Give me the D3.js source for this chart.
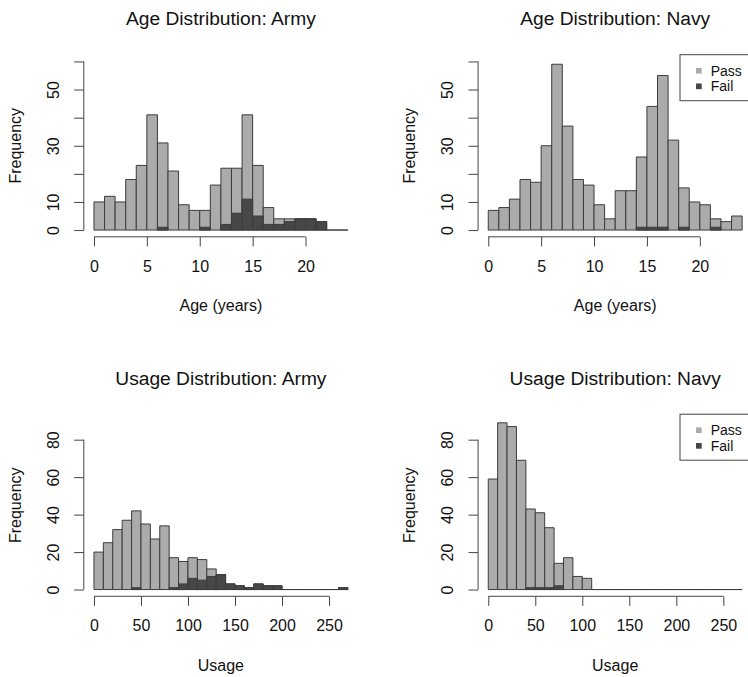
<!DOCTYPE html>
<html>
<head>
<meta charset="utf-8">
<script src="https://cdn.jsdelivr.net/npm/d3@7/dist/d3.min.js"></script>
<style>
  body { margin: 0; background: #fff; }
  svg text { font-family: "Liberation Sans", Arial, Helvetica, sans-serif; fill: #111; }
</style>
</head>
<body>
<svg id="chart" width="748" height="677"></svg>
<script>
// bin edges (1 year for age, 10 units for usage)
const ageEdges = d3.range(0, 25, 1)
const usageEdges = d3.range(0, 280, 10)

// counts per bin. "all" = light bar, "fail" = dark overlay
const armyAgeAll  = [10, 12, 10, 18, 23, 41, 31, 21, 9, 7, 7, 16, 22, 22, 41, 23, 8, 4, 4, 4, 4, 3, 0, 0]
const armyAgeFail = [0, 0, 0, 0, 0, 0, 1, 0, 0, 0, 1, 0, 2, 6, 11, 5, 2, 2, 3, 4, 4, 3, 0, 0]
const navyAgeAll  = [7, 8, 11, 18, 17, 30, 59, 37, 18, 16, 9, 4, 14, 14, 26, 44, 55, 32, 15, 10, 9, 4, 3, 5]
const navyAgeFail = [0, 0, 0, 0, 0, 0, 0, 0, 0, 0, 0, 0, 0, 0, 1, 1, 1, 0, 1, 0, 0, 1, 0, 0]

const armyUsageAll  = [20, 25, 32, 37, 42, 35, 27, 34, 17, 15, 17, 16, 11, 8, 3, 2, 1, 3, 2, 2, 0, 0, 0, 0, 0, 0, 1]
const armyUsageFail = [0, 0, 0, 0, 1, 0, 0, 0, 1, 3, 6, 5, 7, 8, 3, 2, 1, 3, 2, 2, 0, 0, 0, 0, 0, 0, 1]
const navyUsageAll  = [59, 89, 87, 69, 43, 41, 33, 14, 17, 7, 6, 0, 0, 0, 0, 0, 0, 0, 0, 0, 0, 0, 0, 0, 0, 0, 0]
const navyUsageFail = [0, 0, 0, 0, 1, 1, 1, 2, 0, 0, 0, 0, 0, 0, 0, 0, 0, 0, 0, 0, 0, 0, 0, 0, 0, 0, 0]

// axis ticks and which y labels R kept
const ageXTicks = [0, 5, 10, 15, 20]
const usageXTicks = [0, 50, 100, 150, 200, 250]
const ageYTicks = [0, 10, 20, 30, 40, 50, 60]
const ageYLabels = [0, 10, 30, 50]
const usageYTicks = [0, 20, 40, 60, 80]
const usageYLabels = [0, 20, 40, 60, 80]

const legendKeys = ["Pass", "Fail"]

const lightFill = "#ababab"
const darkFill = "#474747"
const barStroke = "#3c3c3c"
const axisColor = "#444"

const svg = d3.select("#chart")

// plot region inside one panel (R's mfrow cell)
const region = { left: 83.8, right: 358, top: 54.7, bottom: 236.8 }

function drawPanel(p) {
  const g = svg.append("g").attr("transform", `translate(${p.dx},${p.dy})`)

  const lo = p.edges[0], hi = p.edges[p.edges.length - 1]
  const pad = (hi - lo) * 0.04
  const x = d3.scaleLinear().domain([lo - pad, hi + pad]).range([region.left, region.right])
  const y = d3.scaleLinear().domain([-p.yMax * 0.04, p.yMax * 1.04]).range([region.bottom, region.top])

  const bins = p.all.map((v, i) => ({ x0: p.edges[i], x1: p.edges[i + 1], all: v, fail: p.fail[i] }))

  // bars as paths so zero counts still leave a line on the baseline
  const barPath = (d, v) => `M${x(d.x0)},${y(0)}V${y(v)}H${x(d.x1)}V${y(0)}Z`

  g.append("g").selectAll("path")
    .data(bins)
    .join("path")
    .attr("d", d => barPath(d, d.all))
    .attr("fill", lightFill)
    .attr("stroke", barStroke)
    .attr("stroke-width", 1)

  g.append("g").selectAll("path")
    .data(bins.filter(d => d.fail > 0))
    .join("path")
    .attr("d", d => barPath(d, d.fail))
    .attr("fill", darkFill)
    .attr("stroke", barStroke)
    .attr("stroke-width", 1)

  // x axis, line only between first and last tick like R
  const xa = g.append("g").attr("transform", `translate(0,${region.bottom})`)
    .call(d3.axisBottom(x).tickValues(p.xTicks).tickSize(9.6).tickPadding(14))
  xa.select(".domain").remove()
  xa.append("line")
    .attr("x1", x(p.xTicks[0])).attr("x2", x(p.xTicks[p.xTicks.length - 1]))
    .attr("stroke", axisColor)
  xa.selectAll(".tick line").attr("stroke", axisColor)
  xa.selectAll(".tick text").attr("font-size", 16).attr("fill", "#111")

  const ya = g.append("g").attr("transform", `translate(${region.left},0)`)
    .call(d3.axisLeft(y).tickValues(p.yTicks).tickSize(9.6)
      .tickFormat(d => p.yLabels.includes(d) ? d : ""))
  ya.select(".domain").remove()
  ya.append("line")
    .attr("y1", y(p.yTicks[0])).attr("y2", y(p.yTicks[p.yTicks.length - 1]))
    .attr("stroke", axisColor)
  ya.selectAll(".tick line").attr("stroke", axisColor)
  ya.selectAll(".tick text")
    .attr("font-size", 16).attr("fill", "#111")
    .attr("transform", "rotate(-90)")
    .attr("text-anchor", "middle")
    .attr("x", 0).attr("y", -30.5).attr("dy", "0.35em")

  // titles and labels
  const cx = (region.left + region.right) / 2
  g.append("text").attr("x", cx).attr("y", 25)
    .attr("text-anchor", "middle").attr("font-size", 19.2).text(p.title)
  g.append("text").attr("x", cx).attr("y", 311)
    .attr("text-anchor", "middle").attr("font-size", 16).text(p.xlab)
  g.append("text")
    .attr("transform", `translate(21,${(region.top + region.bottom) / 2}) rotate(-90)`)
    .attr("text-anchor", "middle").attr("font-size", 16).text("Frequency")

  if (p.legend) {
    const lg = g.append("g").attr("transform", `translate(${region.right - 72.3},${region.top})`)
    lg.append("rect").attr("width", 72.3).attr("height", 46)
      .attr("fill", "#fff").attr("stroke", axisColor)
    lg.selectAll("g.key").data(legendKeys).join("g")
      .attr("transform", (d, i) => `translate(0,${16 + i * 15.6})`)
      .each(function (d, i) {
        const k = d3.select(this)
        k.append("rect").attr("x", 16).attr("y", -2.8).attr("width", 5.7).attr("height", 5.7)
          .attr("fill", i === 0 ? lightFill : darkFill)
        k.append("text").attr("x", 30.7).attr("y", 5).attr("font-size", 14).text(d)
      })
  }
}

const colX = [0, 394.3]
const rowY = [0, 359.5]

drawPanel({ dx: colX[0], dy: rowY[0], title: "Age Distribution: Army", xlab: "Age (years)",
  edges: ageEdges, all: armyAgeAll, fail: armyAgeFail, xTicks: ageXTicks,
  yMax: 60, yTicks: ageYTicks, yLabels: ageYLabels, legend: false })
drawPanel({ dx: colX[1], dy: rowY[0], title: "Age Distribution: Navy", xlab: "Age (years)",
  edges: ageEdges, all: navyAgeAll, fail: navyAgeFail, xTicks: ageXTicks,
  yMax: 60, yTicks: ageYTicks, yLabels: ageYLabels, legend: true })
drawPanel({ dx: colX[0], dy: rowY[1], title: "Usage Distribution: Army", xlab: "Usage",
  edges: usageEdges, all: armyUsageAll, fail: armyUsageFail, xTicks: usageXTicks,
  yMax: 90, yTicks: usageYTicks, yLabels: usageYLabels, legend: false })
drawPanel({ dx: colX[1], dy: rowY[1], title: "Usage Distribution: Navy", xlab: "Usage",
  edges: usageEdges, all: navyUsageAll, fail: navyUsageFail, xTicks: usageXTicks,
  yMax: 90, yTicks: usageYTicks, yLabels: usageYLabels, legend: true })
</script>
</body>
</html>
